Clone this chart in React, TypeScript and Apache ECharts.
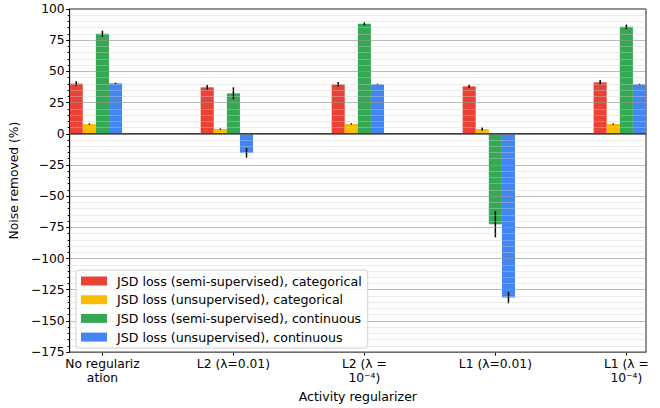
import React, { useEffect, useRef } from "react";
import * as echarts from "echarts";

// Regularizer settings along the x axis
const categories = [
  "No regulariz\nation",
  "L2 (λ=0.01)",
  "L2 (λ =\n10⁻⁴)",
  "L1 (λ=0.01)",
  "L1 (λ =\n10⁻⁴)",
];

const seriesNames = [
  "JSD loss (semi-supervised), categorical",
  "JSD loss (unsupervised), categorical",
  "JSD loss (semi-supervised), continuous",
  "JSD loss (unsupervised), continuous",
];

const seriesColors = ["#EA4335", "#FBBC04", "#34A853", "#4285F4"];

// Noise removed (%) and its spread, one value per regularizer
const semiCategorical = [40.2, 37.2, 39.6, 38.0, 41.2];
const semiCategoricalErr = [1.8, 1.8, 1.8, 1.3, 1.8];
const unsupCategorical = [7.8, 3.8, 7.8, 3.8, 7.8];
const unsupCategoricalErr = [0.5, 0.5, 0.5, 1.3, 0.5];
const semiContinuous = [80.1, 32.4, 88.1, -72.5, 85.7];
const semiContinuousErr = [2.5, 4.8, 1.2, 10.5, 1.8];
const unsupContinuous = [40.4, -15.3, 39.6, -131.3, 39.6];
const unsupContinuousErr = [0.5, 3.8, 0.5, 4.6, 0.5];

const yTicks = [-175, -150, -125, -100, -75, -50, -25, 0, 25, 50, 75, 100];

const values = [semiCategorical, unsupCategorical, semiContinuous, unsupContinuous];
const errors = [semiCategoricalErr, unsupCategoricalErr, semiContinuousErr, unsupContinuousErr];

const BAR_W = 0.1;
const OFFSETS = [-0.2, -0.1, 0, 0.1];
const FONT = "DejaVu Sans";

export default function App() {
  const ref = useRef<HTMLDivElement>(null);

  useEffect(() => {
    if (!ref.current) return;
    const chart = echarts.init(ref.current, null, { renderer: "svg" });

    const barSeries = seriesNames.map((name, s) => ({
      name,
      type: "custom",
      z: 2,
      itemStyle: { color: seriesColors[s] },
      encode: { x: 0, y: 1 },
      data: values[s].map((v, i) => [i + OFFSETS[s], v, errors[s][i]]),
      renderItem: (_params: any, api: any) => {
        const x = api.value(0);
        const y = api.value(1);
        const e = api.value(2);
        const p0 = api.coord([x - BAR_W / 2, 0]);
        const p1 = api.coord([x + BAR_W / 2, y]);
        const e0 = api.coord([x, y - e]);
        const e1 = api.coord([x, y + e]);
        return {
          type: "group",
          children: [
            {
              type: "rect",
              shape: {
                x: p0[0],
                y: Math.min(p0[1], p1[1]),
                width: p1[0] - p0[0],
                height: Math.abs(p1[1] - p0[1]),
              },
              style: { fill: api.visual("color") },
            },
            {
              type: "line",
              z2: 10,
              shape: { x1: e0[0], y1: e0[1], x2: e1[0], y2: e1[1] },
              style: { stroke: "#000", lineWidth: 1.5 },
            },
          ],
        };
      },
    }));

    chart.setOption({
      animation: false,
      backgroundColor: "#fff",
      textStyle: { fontFamily: FONT },
      grid: {
        left: 68,
        right: 14,
        top: 9,
        bottom: 53,
        show: true,
        borderColor: "#222",
        borderWidth: 1,
        backgroundColor: "transparent",
        containLabel: false,
      },
      legend: {
        data: seriesNames,
        orient: "vertical",
        left: 76,
        top: 270,
        icon: "rect",
        itemWidth: 26,
        itemHeight: 9,
        itemGap: 4.7,
        padding: [4, 6, 4, 5],
        backgroundColor: "rgba(255,255,255,0.85)",
        borderColor: "#d0d0d0",
        borderWidth: 1,
        borderRadius: 3,
        textStyle: {
          fontFamily: FONT,
          fontSize: 12.6,
          color: "#000",
          lineHeight: 14,
          padding: [0, 0, 0, 5],
        },
      },
      xAxis: {
        type: "value",
        min: -0.25,
        max: 4.15,
        name: "Activity regularizer",
        nameLocation: "middle",
        nameGap: 34,
        nameTextStyle: { fontFamily: FONT, fontSize: 12.5, color: "#000" },
        axisLine: { show: true, onZero: false, lineStyle: { color: "#222", width: 1 } },
        axisTick: {
          show: true,
          customValues: [0, 1, 2, 3, 4],
          length: 3.5,
          lineStyle: { color: "#000" },
        },
        axisLabel: {
          customValues: [0, 1, 2, 3, 4],
          formatter: (v: number) => categories[Math.round(v)] ?? "",
          fontFamily: FONT,
          fontSize: 12.3,
          color: "#000",
          lineHeight: 14,
          margin: 5,
        },
        splitLine: { show: false },
      },
      yAxis: {
        type: "value",
        min: -175,
        max: 100,
        interval: 25,
        z: 3,
        name: "Noise removed (%)",
        nameLocation: "middle",
        nameGap: 44,
        nameTextStyle: { fontFamily: FONT, fontSize: 12.3, color: "#000" },
        axisLine: { show: true, onZero: false, lineStyle: { color: "#000", width: 1 } },
        axisTick: { show: true, length: 3.5, lineStyle: { color: "#000" } },
        minorTick: { show: true, splitNumber: 5, length: 2, lineStyle: { color: "#000" } },
        axisLabel: {
          fontFamily: FONT,
          fontSize: 12.3,
          color: "#000",
          margin: 5,
          customValues: yTicks,
          formatter: (v: number) => (v < 0 ? "\u2212" + Math.abs(v) : String(v)),
        },
        splitLine: { show: true, lineStyle: { color: "rgba(150,150,150,0.65)", width: 1 } },
        minorSplitLine: { show: true, lineStyle: { color: "rgba(205,205,205,0.4)", width: 1 } },
      },
      series: [
        ...barSeries,
        {
          // reference line at zero
          type: "line",
          z: 5,
          silent: true,
          symbol: "none",
          lineStyle: { color: "#404040", width: 1.5 },
          data: [
            [-0.25, 0],
            [4.15, 0],
          ],
        },
      ],
    });

    return () => chart.dispose();
  }, []);

  return (
    <div
      ref={ref}
      style={{ position: "fixed", left: 0, top: 0, width: 660, height: 408 }}
    />
  );
}
